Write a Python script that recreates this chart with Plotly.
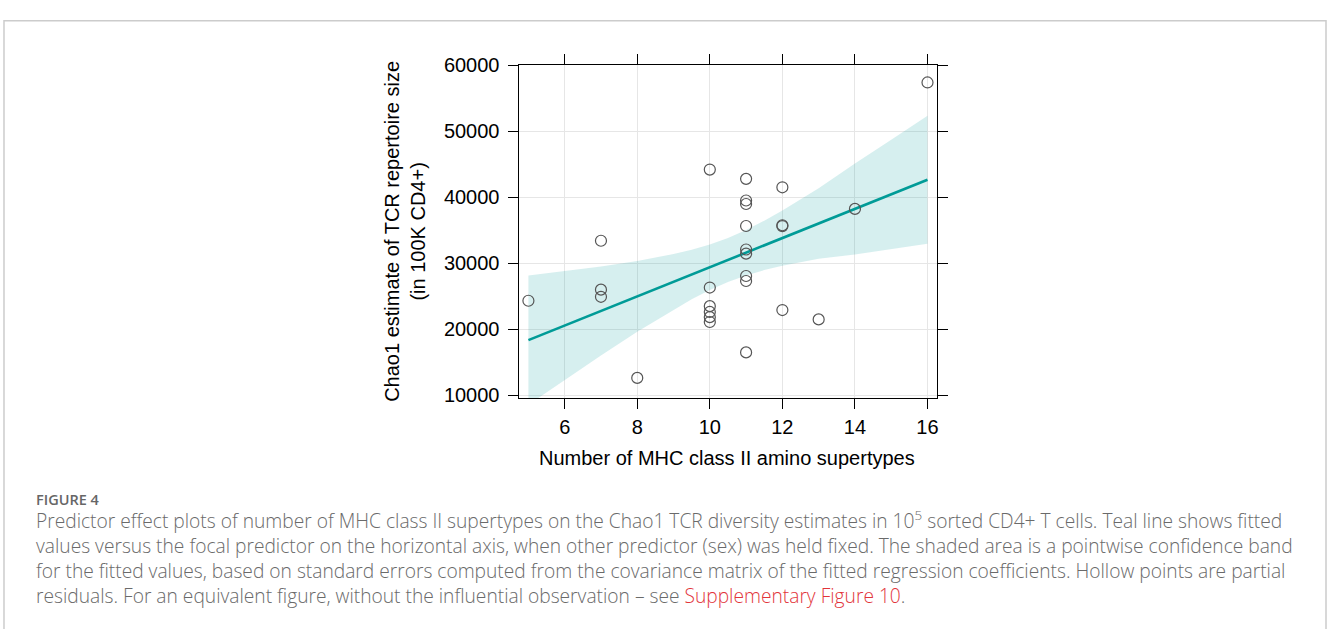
import plotly.graph_objects as go

W, H = 1328, 629

# ---- data ----
x_obs = [5, 7, 7, 7, 8,
         10, 10, 10, 10, 10, 10,
         11, 11, 11, 11, 11, 11, 11, 11, 11,
         12, 12, 12, 12, 13, 14, 16]
y_obs = [24300, 33400, 25980, 24900, 12600,
         44190, 26300, 23480, 22600, 21810, 21080,
         42780, 39500, 38970, 35630, 32070, 31440, 28050, 27290, 16470,
         41500, 35750, 35620, 22890, 21470, 38230, 57400]

x_band = [5, 6, 7, 8, 9, 9.5, 10, 10.5, 11, 11.5, 12, 13, 14, 15, 16]
fit = [18330, 20540, 22750, 24960, 27170, 28275, 29380, 30485, 31590,
       32695, 33800, 36010, 38220, 40430, 42640]
upper = [28130, 28790, 29500, 30310, 31370, 32025, 32830, 33815, 35040,
         36445, 38000, 41360, 45120, 48730, 52340]
lower = [8530, 12290, 16000, 19610, 22970, 24525, 25930, 27155, 28140,
         28945, 29600, 30660, 31320, 32130, 32940]

x_ticks = [6, 8, 10, 12, 14, 16]
y_ticks = [10000, 20000, 30000, 40000, 50000, 60000]

x_title = "Number of MHC class II amino supertypes"
y_title = "Chao1 estimate of TCR repertoire size<br>(in 100K CD4+)"

caption_head = "FIGURE 4"
caption_lines = [
    "Predictor effect plots of number of MHC class II supertypes on the Chao1 TCR diversity estimates in 10<sup>5</sup> sorted CD4+ T cells. Teal line shows fitted",
    "values versus the focal predictor on the horizontal axis, when other predictor (sex) was held fixed. The shaded area is a pointwise confidence band",
    "for the fitted values, based on standard errors computed from the covariance matrix of the fitted regression coefficients. Hollow points are partial",
    "residuals. For an equivalent figure, without the influential observation \u2013 see <span style='color:#E2343A'>Supplementary Figure 10</span>.",
]

# ---- layout helpers (pixel -> paper) ----
def px(x):
    return x / W

def py(y):
    return 1 - y / H

plot_l, plot_r, plot_t, plot_b = 519, 938, 56, 399

fig = go.Figure()

fig.add_trace(go.Scatter(x=x_band, y=lower, mode="lines",
                         line=dict(width=0, color="rgba(0,155,155,0)"),
                         hoverinfo="skip", showlegend=False))
fig.add_trace(go.Scatter(x=x_band, y=upper, mode="lines", fill="tonexty",
                         fillcolor="rgba(0,155,155,0.16)",
                         line=dict(width=0, color="rgba(0,155,155,0)"),
                         hoverinfo="skip", showlegend=False))
fig.add_trace(go.Scatter(x=x_band, y=fit, mode="lines",
                         line=dict(width=2.6, color="#009B97"),
                         showlegend=False))
fig.add_trace(go.Scatter(x=x_obs, y=y_obs, mode="markers",
                         marker=dict(symbol="circle-open", size=11,
                                     color="#555555",
                                     line=dict(width=1.2, color="#555555")),
                         showlegend=False, cliponaxis=False))

axis_font = dict(family="Liberation Sans, Arial, sans-serif", size=20, color="black")

fig.update_layout(
    width=W, height=H,
    margin=dict(l=0, r=0, t=0, b=0),
    paper_bgcolor="white", plot_bgcolor="white",
    font=axis_font,
    xaxis=dict(domain=[px(plot_l), px(plot_r)],
               range=[4.73, 16.27],
               tickvals=x_ticks, ticktext=[str(v) for v in x_ticks],
               ticks="outside", ticklen=10, tickwidth=1, tickcolor="black",
               showline=True, linecolor="black", linewidth=1.2, mirror="ticks",
               showgrid=True, gridcolor="#e6e6e6", gridwidth=1,
               zeroline=False, tickfont=axis_font, ticklabelstandoff=1),
    yaxis=dict(domain=[py(plot_b), py(plot_t)],
               range=[9560, 60000],
               tickvals=y_ticks, ticktext=[str(v) for v in y_ticks],
               ticks="outside", ticklen=10, tickwidth=1, tickcolor="black",
               showline=True, linecolor="black", linewidth=1.2, mirror="ticks",
               showgrid=True, gridcolor="#e6e6e6", gridwidth=1,
               zeroline=False, tickfont=axis_font, ticklabelstandoff=4),
)

cap_font = dict(family="Open Sans, sans-serif", size=19.2, color="#6a6a6a", weight=300)

annotations = [
    dict(text=x_title, x=px(728), y=py(461), xref="paper", yref="paper",
         xanchor="center", yanchor="middle", showarrow=False, font=axis_font),
    dict(text=y_title, x=px(405), y=py(227), xref="paper", yref="paper",
         xanchor="center", yanchor="middle", showarrow=False, textangle=-90,
         font=axis_font),
    dict(text=caption_head, x=px(34), y=py(504), xref="paper", yref="paper",
         xanchor="left", yanchor="middle", showarrow=False,
         font=dict(family="Open Sans, sans-serif", size=14.5, color="#666666",
                   weight=600)),
]
line_y = [525, 551, 577, 603]
for t, yy in zip(caption_lines, line_y):
    annotations.append(dict(text=t, x=px(34), y=py(yy), xref="paper", yref="paper",
                            xanchor="left", yanchor="middle", showarrow=False,
                            font=cap_font))
fig.update_layout(annotations=annotations)

fig.add_shape(type="rect", xref="paper", yref="paper",
              x0=px(4), x1=px(1327), y0=-0.2, y1=py(10),
              line=dict(color="#cccccc", width=1.5), fillcolor="rgba(0,0,0,0)",
              layer="below")

fig.write_html("out.html",
               config={"displayModeBar": False},
               post_script="document.body.style.margin='0px';document.body.style.overflow='hidden';")
